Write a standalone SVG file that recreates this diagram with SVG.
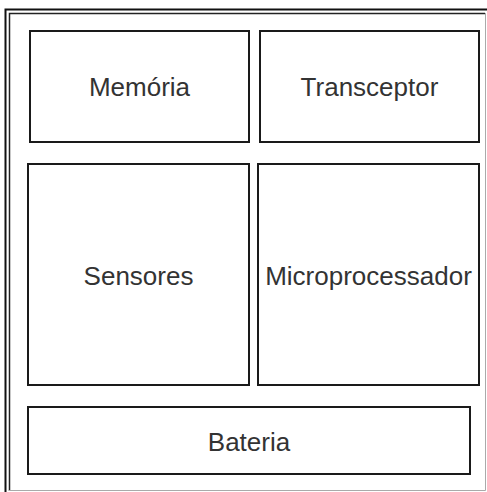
<svg xmlns="http://www.w3.org/2000/svg" width="487" height="492" viewBox="0 0 487 492">
<style>
.box{fill:#fff;stroke:#1a1a1a;stroke-width:2}
.lbl{font-family:"Liberation Sans",Arial,sans-serif;font-size:26px;fill:#333;text-anchor:middle}
</style>
<rect width="487" height="492" fill="#fff"/>
<g id="frame">
<path d="M5.5,492 V9.5 H487" fill="none" stroke="#111" stroke-width="2"/>
<path d="M9.5,491 V13.5 H485" fill="none" stroke="#222" stroke-width="1.5"/>
<path d="M485.5,13 V490.5 H9" fill="none" stroke="#aaa" stroke-width="1"/>
</g>
<g id="memoria"><rect class="box" x="30" y="31" width="219" height="111"/><text class="lbl" x="139.5" y="96">Memória</text></g>
<g id="transceptor"><rect class="box" x="260" y="31" width="219" height="111"/><text class="lbl" x="369.5" y="96">Transceptor</text></g>
<g id="sensores"><rect class="box" x="28" y="164" width="221" height="221"/><text class="lbl" x="138.5" y="285">Sensores</text></g>
<g id="microprocessador"><rect class="box" x="258" y="164" width="221" height="221"/><text class="lbl" x="368.5" y="285">Microprocessador</text></g>
<g id="bateria"><rect class="box" x="28" y="407" width="442" height="67"/><text class="lbl" x="249" y="451">Bateria</text></g>
<g id="connectors"></g>
</svg>
